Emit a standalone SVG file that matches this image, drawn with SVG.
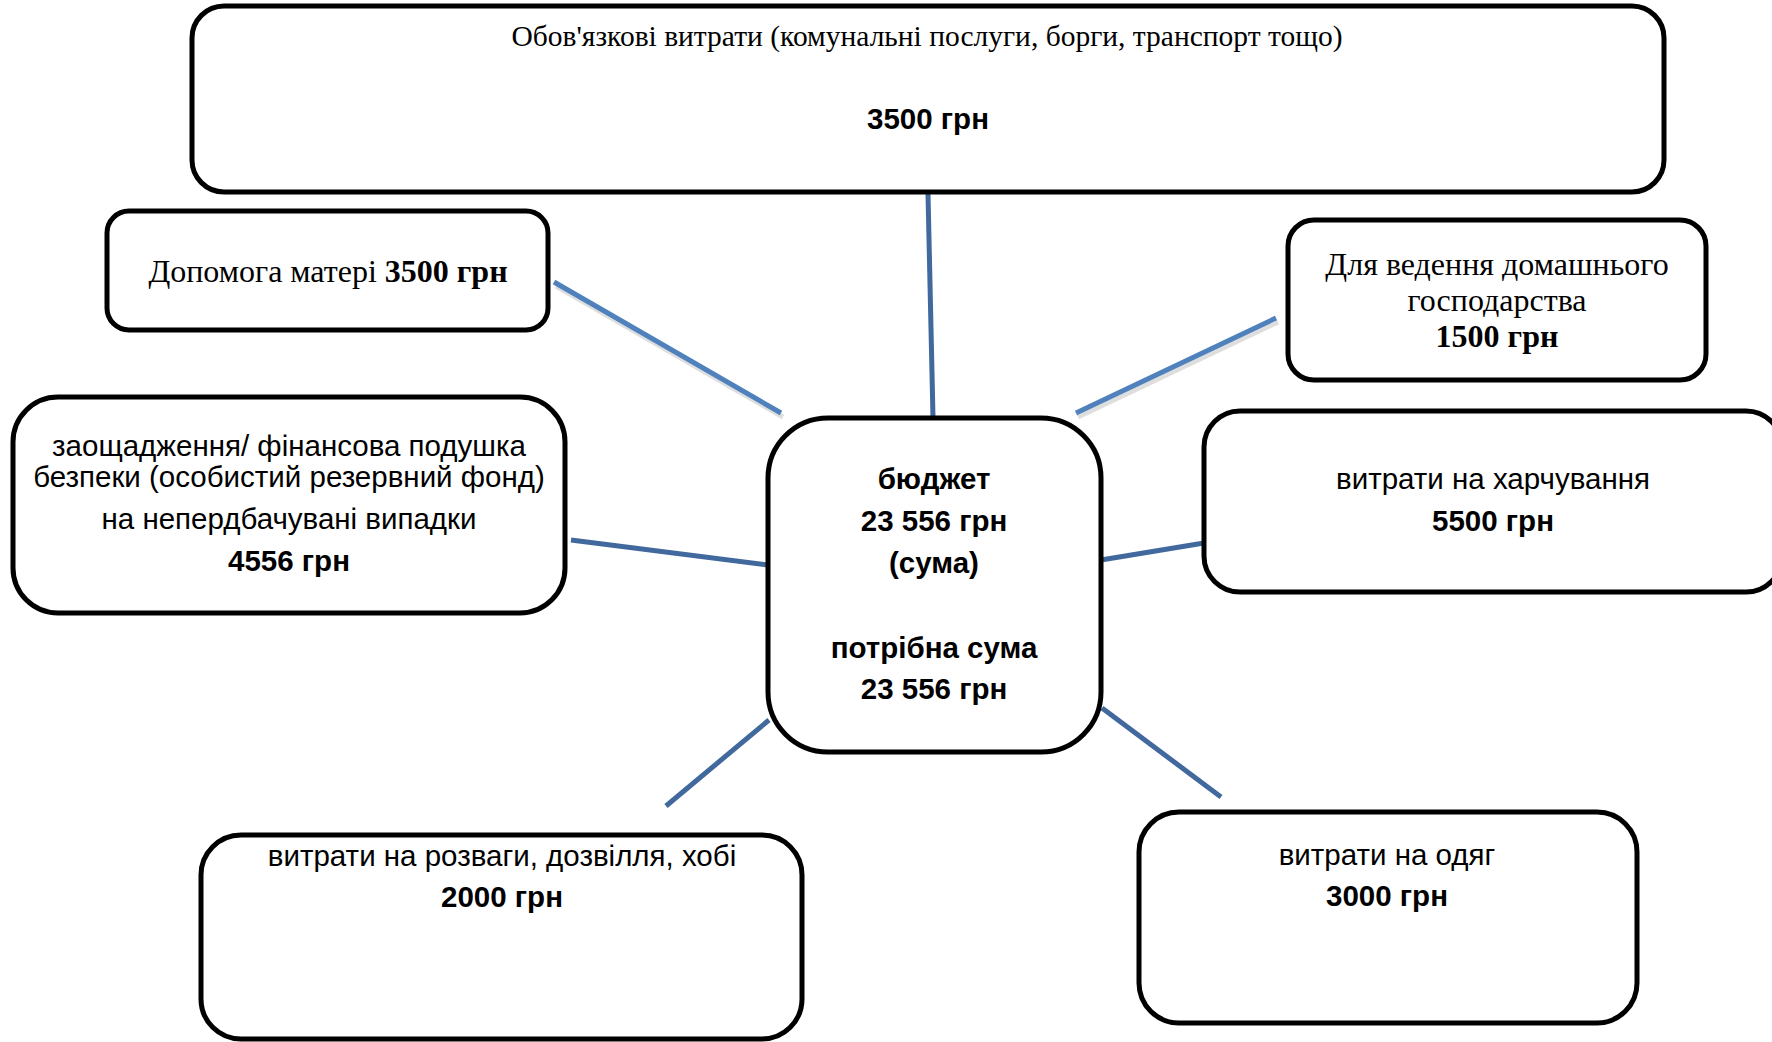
<svg xmlns="http://www.w3.org/2000/svg" width="1772" height="1042" viewBox="0 0 1772 1042">
<defs>
<style>
.box{fill:#fff;stroke:#000;stroke-width:5}
.tr{font-family:"Liberation Serif","Times New Roman",serif;font-size:32px;fill:#000;text-anchor:middle}
.tr1{font-size:29.5px}
.ar{font-family:"Liberation Sans",Arial,sans-serif;font-size:29.5px;fill:#000;text-anchor:middle}
.b{font-weight:bold}
.c1{stroke:#4f81bd;stroke-width:5;fill:none}
.c2{stroke:#41699d;stroke-width:5;fill:none}
.sh{stroke:#c8c8c8;stroke-width:5;fill:none;opacity:0.6}
</style>
</defs>
<rect width="1772" height="1042" fill="#fff"/>
<g id="connectors">
<line class="sh" x1="556" y1="286" x2="783" y2="417"/>
<line class="sh" x1="1278" y1="322" x2="1078" y2="417"/>
<line class="c2" x1="928" y1="194" x2="933" y2="418"/>
<line class="c1" x1="554" y1="282" x2="781" y2="413"/>
<line class="c1" x1="1276" y1="318" x2="1076" y2="413"/>
<line class="c2" x1="571" y1="540" x2="768" y2="565"/>
<line class="c2" x1="1101" y1="560" x2="1204" y2="543"/>
<line class="c2" x1="769" y1="720" x2="666" y2="806"/>
<line class="c2" x1="1102" y1="708" x2="1221" y2="797"/>
</g>
<g id="node-mandatory">
<rect class="box" x="192" y="6" width="1472" height="186" rx="32"/>
<text class="tr tr1" x="927" y="46">Обов'язкові витрати (комунальні послуги, борги, транспорт тощо)</text>
<text class="ar b" x="928" y="129">3500 грн</text>
</g>
<g id="node-mother">
<rect class="box" x="107" y="211" width="441" height="119" rx="22"/>
<text class="tr" x="328" y="282">Допомога матері <tspan class="b">3500 грн</tspan></text>
</g>
<g id="node-household">
<rect class="box" x="1288" y="220" width="418" height="160" rx="26"/>
<text class="tr" x="1497" y="275">Для ведення домашнього</text>
<text class="tr" x="1497" y="311">господарства</text>
<text class="tr b" x="1497" y="347">1500 грн</text>
</g>
<g id="node-savings">
<rect class="box" x="13" y="397" width="552" height="216" rx="45"/>
<text class="ar" x="289" y="456">заощадження/ фінансова подушка</text>
<text class="ar" x="289" y="487">безпеки (особистий резервний фонд)</text>
<text class="ar" x="289" y="529">на непердбачувані випадки</text>
<text class="ar b" x="289" y="571">4556 грн</text>
</g>
<g id="node-budget">
<rect class="box" x="768" y="418" width="333" height="334" rx="60"/>
<text class="ar b" x="934" y="489">бюджет</text>
<text class="ar b" x="934" y="531">23 556 грн</text>
<text class="ar b" x="934" y="573">(сума)</text>
<text class="ar b" x="934" y="658">потрібна сума</text>
<text class="ar b" x="934" y="699">23 556 грн</text>
</g>
<g id="node-food">
<rect class="box" x="1204" y="411" width="578" height="181" rx="36"/>
<text class="ar" x="1493" y="489">витрати на харчування</text>
<text class="ar b" x="1493" y="531">5500 грн</text>
</g>
<g id="node-leisure">
<rect class="box" x="201" y="835" width="601" height="204" rx="40"/>
<text class="ar" x="502" y="866">витрати на розваги, дозвілля, хобі</text>
<text class="ar b" x="502" y="907">2000 грн</text>
</g>
<g id="node-clothes">
<rect class="box" x="1139" y="812" width="498" height="211" rx="40"/>
<text class="ar" x="1387" y="865">витрати на одяг</text>
<text class="ar b" x="1387" y="906">3000 грн</text>
</g>
</svg>
